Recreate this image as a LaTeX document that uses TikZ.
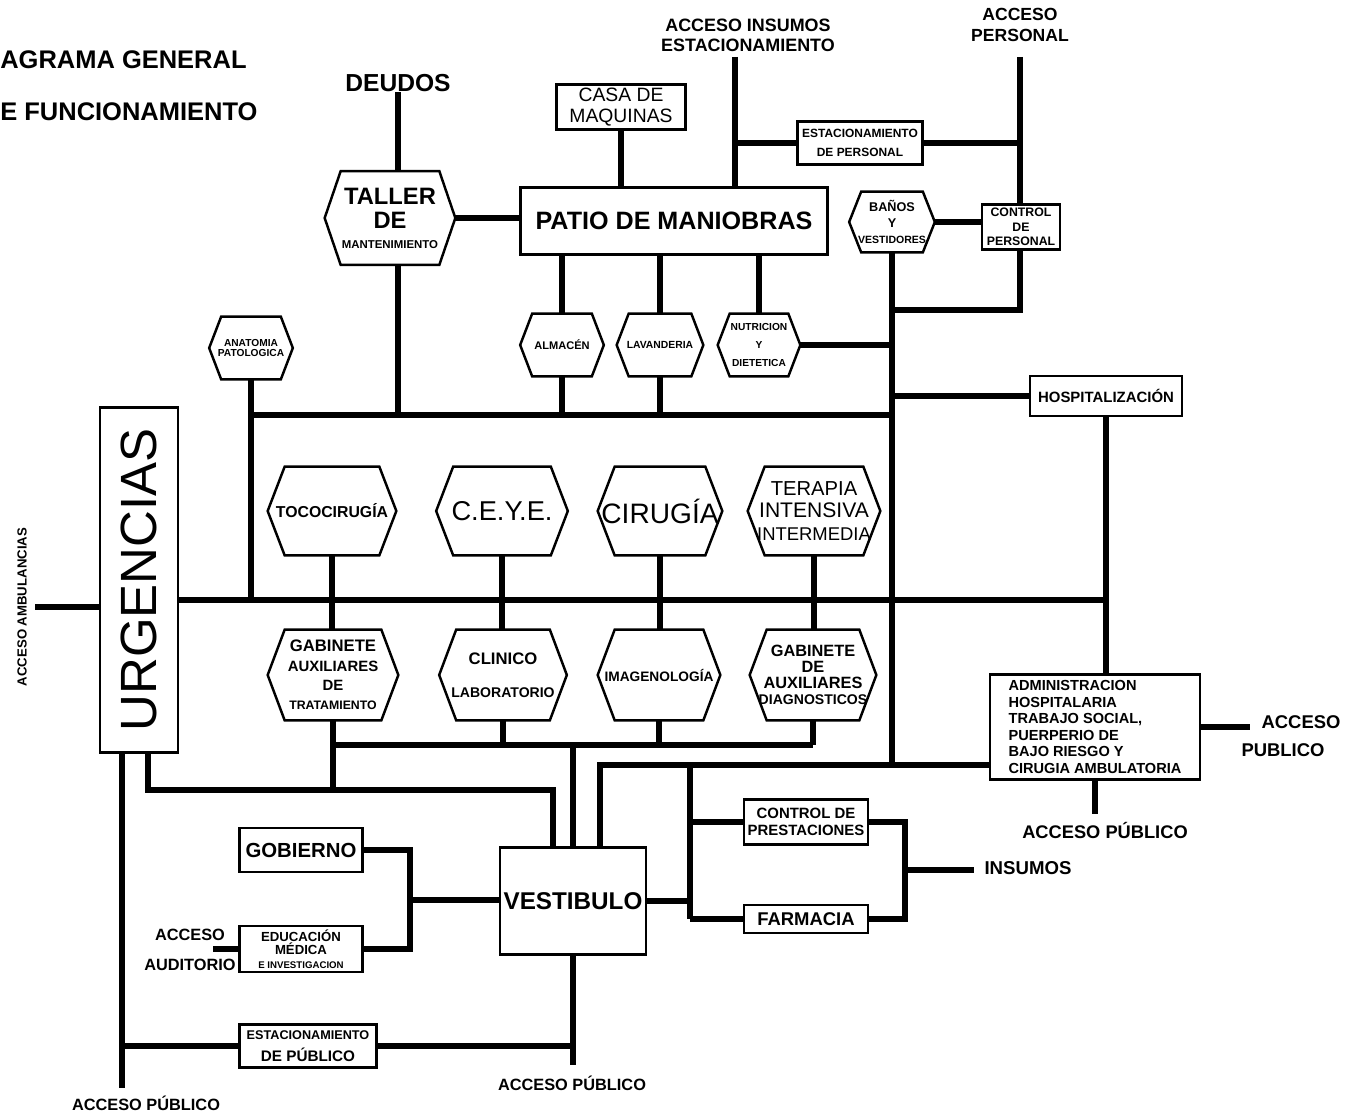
\documentclass[tikz,border=0pt]{standalone}
\usepackage{fontspec}
\setmainfont{Liberation Sans}
\newcommand{\fs}[2]{\fontsize{#1}{#2}\selectfont}

\tikzset{
  conn/.style={line width=3.4pt},
  frame/.style={line width=1.4pt},
  boxr/.style={draw, frame, inner sep=0pt, align=center},
  hexa/.style={inner sep=0pt, align=center},
  lbl/.style={inner sep=0pt, align=center},
}

\begin{document}
\begin{tikzpicture}[x=0.02cm, y=-0.02cm]
  \useasboundingbox (0,0) rectangle (1345,1115);

  % titulo
  \node[lbl, anchor=west, font=\bfseries\fs{14.5}{16}] (tit1) at (0,60) {AGRAMA GENERAL};
  \node[lbl, anchor=west, font=\bfseries\fs{14.5}{16}] (tit2) at (0,112) {E FUNCIONAMIENTO};

  % servicios generales
  \node[lbl, font=\bfseries\fs{14}{16}] (deudos) at (398,83) {DEUDOS};
  \node[hexa, minimum width=2.6cm, minimum height=1.86cm, font=\bfseries\fs{13.5}{14}] (taller) at (390,218) {TALLER\\DE\\[-3pt]{\fs{6.5}{7}MANTENIMIENTO}};
  \node[boxr, minimum width=2.58cm, minimum height=0.9cm, font=\fs{11}{11.5}] (casa) at (621,107) {CASA DE\\MAQUINAS};
  \node[boxr, minimum width=6.14cm, minimum height=1.34cm, font=\bfseries\fs{14.3}{16}] (patio) at (674,221) {PATIO DE MANIOBRAS};
  \node[lbl, font=\bfseries\fs{10.2}{11.4}] (accins) at (748,35) {ACCESO INSUMOS\\ESTACIONAMIENTO};
  \node[lbl, font=\bfseries\fs{10}{12}] (accper) at (1020,25) {ACCESO\\PERSONAL};
  \node[boxr, minimum width=2.5cm, minimum height=0.86cm, font=\bfseries\fs{6.8}{11}] (estper) at (860,143) {ESTACIONAMIENTO\\DE PERSONAL};
  \node[hexa, minimum width=1.7cm, minimum height=1.2cm, font=\bfseries\fs{7.2}{9}] (banos) at (892,222) {BAÑOS\\Y\\{\fs{6}{7}VESTIDORES}};
  \node[boxr, minimum width=1.56cm, minimum height=0.9cm, font=\bfseries\fs{7}{8.2}] (ctrlper) at (1021,227) {CONTROL\\DE\\PERSONAL};
  \node[hexa, minimum width=1.66cm, minimum height=1.24cm, font=\bfseries\fs{5.8}{6}] (anat) at (251,348) {ANATOMIA\\PATOLOGICA};
  \node[hexa, minimum width=1.66cm, minimum height=1.24cm, font=\bfseries\fs{6.3}{7}] (almacen) at (562,345) {ALMACÉN};
  \node[hexa, minimum width=1.72cm, minimum height=1.24cm, font=\bfseries\fs{5.9}{7}] (lavand) at (660,345) {LAVANDERIA};
  \node[hexa, minimum width=1.64cm, minimum height=1.24cm, font=\bfseries\fs{5.8}{10.5}] (nutri) at (759,345) {NUTRICION\\Y\\DIETETICA};
  \node[boxr, minimum width=3.04cm, minimum height=0.8cm, font=\bfseries\fs{8.5}{10}] (hosp) at (1106,396) {HOSPITALIZACIÓN};

  % zona medica
  \node[boxr, minimum width=1.56cm, minimum height=6.9cm, font=\fs{29}{30}] (urg) at (139,580) {\rotatebox{90}{URGENCIAS}};
  \node[lbl, font=\bfseries\fs{7.5}{8}] (ambul) at (22,607) {\rotatebox{90}{ACCESO AMBULANCIAS}};
  \node[hexa, minimum width=2.56cm, minimum height=1.76cm, font=\bfseries\fs{9}{10}] (toco) at (332,511) {TOCOCIRUGÍA};
  \node[hexa, minimum width=2.62cm, minimum height=1.76cm, font=\fs{15.5}{16}] (ceye) at (502,511) {C.E.Y.E.};
  \node[hexa, minimum width=2.48cm, minimum height=1.76cm, font=\fs{16}{17}] (cirugia) at (660,511) {CIRUGÍA};
  \node[hexa, minimum width=2.64cm, minimum height=1.76cm, font=\fs{12}{13}] (terapia) at (814,511) {{\fs{11.5}{13}TERAPIA}\\INTENSIVA\\{\fs{10.5}{12}INTERMEDIA}};
  \node[hexa, minimum width=2.6cm, minimum height=1.8cm, font=\bfseries\fs{8.5}{11}] (gabtrat) at (333,675) {{\fs{9.5}{11}GABINETE}\\AUXILIARES\\DE\\{\fs{7}{8}TRATAMIENTO}};
  \node[hexa, minimum width=2.54cm, minimum height=1.8cm, font=\bfseries\fs{8}{9}] (clinico) at (503,675) {{\fs{9.5}{10}CLINICO}\\[10pt]LABORATORIO};
  \node[hexa, minimum width=2.44cm, minimum height=1.8cm, font=\bfseries\fs{7.8}{9}] (imagen) at (659,675) {IMAGENOLOGÍA};
  \node[hexa, minimum width=2.52cm, minimum height=1.8cm, font=\bfseries\fs{9.3}{9}] (gabdiag) at (813,675) {GABINETE\\DE\\AUXILIARES\\{\fs{8}{9}DIAGNOSTICOS}};

  % administracion
  \node[boxr, minimum width=4.2cm, minimum height=2.1cm, align=left, font=\bfseries\fs{8.3}{9.4}] (admin) at (1095,727) {ADMINISTRACION\\HOSPITALARIA\\TRABAJO SOCIAL,\\PUERPERIO DE\\BAJO RIESGO Y\\CIRUGIA AMBULATORIA};
  \node[lbl, font=\bfseries\fs{10.5}{12}] (accpubA) at (1301,722) {ACCESO};
  \node[lbl, font=\bfseries\fs{10.5}{12}] (accpubB) at (1283,750) {PUBLICO};
  \node[lbl, font=\bfseries\fs{10.4}{12}] (accpub2) at (1105,830) {ACCESO PÚBLICO};
  \node[lbl, font=\bfseries\fs{10.6}{12}] (insumos) at (1028,868) {INSUMOS};
  \node[boxr, minimum width=2.48cm, minimum height=0.9cm, font=\bfseries\fs{8.5}{10}] (ctrlpres) at (806,822) {CONTROL DE\\PRESTACIONES};
  \node[boxr, minimum width=2.48cm, minimum height=0.56cm, font=\bfseries\fs{10.5}{12}] (farmacia) at (806,919) {FARMACIA};

  % acceso publico
  \node[boxr, minimum width=2.92cm, minimum height=2.14cm, font=\bfseries\fs{13.8}{15}] (vest) at (573,901) {VESTIBULO};
  \node[boxr, minimum width=2.46cm, minimum height=0.88cm, font=\bfseries\fs{11.6}{13}] (gobierno) at (301,850) {GOBIERNO};
  \node[boxr, minimum width=2.46cm, minimum height=0.92cm, font=\bfseries\fs{7.5}{7.7}] (educ) at (301,949) {EDUCACIÓN\\MÉDICA\\{\fs{5.5}{6}E INVESTIGACION}};
  \node[lbl, font=\bfseries\fs{9.3}{11}] (accaud) at (190,950) {ACCESO\\[6pt]AUDITORIO};
  \node[boxr, minimum width=2.74cm, minimum height=0.86cm, font=\bfseries\fs{8.7}{12.5}] (estpub) at (308,1046) {{\fs{7.2}{8}ESTACIONAMIENTO}\\DE PÚBLICO};
  \node[lbl, font=\bfseries\fs{9.3}{11}] (accpub3) at (572,1083) {ACCESO PÚBLICO};
  \node[lbl, font=\bfseries\fs{9.3}{11}] (accpub4) at (146,1103) {ACCESO PÚBLICO};

  % hexagonos
  \foreach \h/\c in {taller/0.32, banos/0.24, anat/0.24, almacen/0.24, lavand/0.24, nutri/0.24,
                     toco/0.34, ceye/0.34, cirugia/0.34, terapia/0.34,
                     gabtrat/0.34, clinico/0.34, imagen/0.34, gabdiag/0.34}
    \draw[frame] (\h.west) -- ([xshift=\c cm]\h.north west) -- ([xshift=-\c cm]\h.north east)
      -- (\h.east) -- ([xshift=-\c cm]\h.south east) -- ([xshift=\c cm]\h.south west) -- cycle;

  % puntos de union
  \coordinate (insTop) at (735,57);
  \coordinate (perTop) at (1020,57);
  \coordinate (jPer) at (893,310);
  \coordinate (busL) at (251,415);
  \coordinate (mainR) at (1105,600);
  \coordinate (lowbus) at (573,745);
  \coordinate (loopL) at (148,790);
  \coordinate (loopR) at (553,790);
  \coordinate (admL) at (600,765);
  \coordinate (jFar) at (690,765);
  \coordinate (jIns) at (905,870);
  \coordinate (jGob) at (410,900);
  \coordinate (audE) at (213,948);
  \coordinate (jPub) at (122,1045);
  \coordinate (accE) at (1250,725);
  \coordinate (ambE) at (35,607);

  % circulaciones de servicio
  \draw[conn] (deudos.south) -- (deudos.south |- taller.north);
  \draw[conn] (deudos.south |- taller.south) -- (deudos.south |- busL);
  \draw[conn] (taller.east) -- (taller.east -| patio.west);
  \draw[conn] (casa.south) -- (casa.south |- patio.north);
  \draw[conn] (insTop) -- (insTop |- patio.north);
  \draw[conn] (estper.west) -- (estper.west -| insTop);
  \draw[conn] (estper.east) -- (estper.east -| perTop);
  \draw[conn] (perTop) -- (perTop |- ctrlper.north);
  \draw[conn] (banos.east) -- (banos.east -| ctrlper.west);
  \draw[conn] (perTop |- ctrlper.south) |- (jPer);
  \draw[conn] (banos.south) -- (banos.south |- admL);
  \draw[conn] (nutri.east) -- (nutri.east -| banos.south);
  \draw[conn] (hosp.west) -- (hosp.west -| banos.south);
  \draw[conn] (hosp.south) -- (hosp.south |- admin.north);
  \draw[conn] (anat.south) -- (anat.south |- mainR);
  \draw[conn] (anat.south |- busL) -- (banos.south |- busL);
  \foreach \n in {almacen, lavand} {
    \draw[conn] (\n.north |- patio.south) -- (\n.north);
    \draw[conn] (\n.south) -- (\n.south |- busL);
  }
  \draw[conn] (nutri.north |- patio.south) -- (nutri.north);

  % circulacion medica
  \draw[conn] (ambE) -- (ambE -| urg.west);
  \draw[conn] (urg.east |- mainR) -- (mainR);
  \foreach \a/\b in {toco/gabtrat, ceye/clinico, cirugia/imagen, terapia/gabdiag} {
    \draw[conn] (\a.south) -- (\a.south |- \b.north);
    \draw[conn] (\b.south) -- (\b.south |- lowbus);
  }
  \draw[conn] (gabtrat.south |- lowbus) -- (gabdiag.south |- lowbus);
  \draw[conn] (gabtrat.south |- lowbus) -- (gabtrat.south |- loopL);
  \draw[conn] (loopL |- urg.south) -- (loopL) -- (loopR) -- (loopR |- vest.north);
  \draw[conn] (lowbus) -- (lowbus |- vest.north);
  \draw[conn] (admin.west |- admL) -- (admL) -- (admL |- vest.north);
  \draw[conn] (admin.east) -- (admin.east -| accE);
  \draw[conn, shorten >=0.15cm] (admin.south) -- (admin.south |- accpub2.north);

  % farmacia e insumos
  \draw[conn] (vest.east) -- (vest.east -| jFar);
  \draw[conn] (jFar) -- (jFar |- farmacia.west);
  \draw[conn] (jFar |- ctrlpres.west) -- (ctrlpres.west);
  \draw[conn] (jFar |- farmacia.west) -- (farmacia.west);
  \draw[conn] (ctrlpres.east) -| (jIns |- farmacia.east) -- (farmacia.east);
  \draw[conn, shorten >=0.2cm] (jIns) -- (jIns -| insumos.west);

  % gobierno y acceso publico
  \draw[conn] (gobierno.east) -| (jGob |- educ.east) -- (educ.east);
  \draw[conn] (jGob) -- (jGob -| vest.west);
  \draw[conn] (educ.west) -- (educ.west -| audE);
  \draw[conn, shorten >=0.15cm] (jPub |- urg.south) -- (jPub |- accpub4.north);
  \draw[conn] (estpub.west) -- (estpub.west -| jPub);
  \draw[conn] (estpub.east) -- (estpub.east -| vest.south);
  \draw[conn, shorten >=0.2cm] (vest.south) -- (vest.south |- accpub3.north);
\end{tikzpicture}
\end{document}
